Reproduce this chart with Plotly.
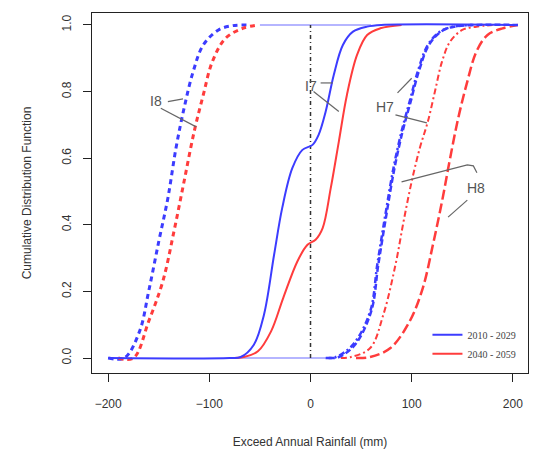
import plotly.graph_objects as go

# ---- CDF curves (x: exceed annual rainfall in mm, y: cumulative probability) ----
i8_blue_x = [-200, -184, -169, -160, -150, -141, -133, -125, -116, -106, -91, -77, -60]
i8_blue_y = [0.0, 0.0, 0.08, 0.20, 0.35, 0.48, 0.63, 0.75, 0.86, 0.94, 0.985, 0.998, 1.0]

i8_red_x = [-190, -175, -160, -146, -135, -125, -115, -106, -97, -84, -67, -52]
i8_red_y = [0.0, 0.0, 0.11, 0.23, 0.38, 0.53, 0.68, 0.79, 0.89, 0.96, 0.99, 1.0]

i7_blue_x = [-200, -80, -69, -56, -46, -36, -28, -18, -8, 2, 8, 15, 23, 32, 42, 56, 70, 205]
i7_blue_y = [0.0, 0.0, 0.003, 0.04, 0.13, 0.31, 0.45, 0.57, 0.625, 0.64, 0.67, 0.74, 0.85, 0.94, 0.98, 0.995, 1.0, 1.0]

i7_red_x = [-80, -66, -52, -39, -27, -13, -3, 5, 12, 20, 28, 36, 46, 56, 69, 90]
i7_red_y = [0.0, 0.003, 0.02, 0.08, 0.18, 0.29, 0.34, 0.355, 0.39, 0.51, 0.65, 0.79, 0.91, 0.97, 0.99, 1.0]

h7_blue_x = [15, 25, 42, 59, 66, 74, 82, 90, 98, 106, 116, 128, 141, 160]
h7_blue_y = [0.0, 0.003, 0.04, 0.14, 0.28, 0.43, 0.57, 0.68, 0.77, 0.86, 0.94, 0.98, 0.995, 1.0]

h8_blue_x = [18, 28, 44, 60, 67, 75, 83, 91, 99, 107, 117, 129, 142, 205]
h8_blue_y = [0.0, 0.003, 0.04, 0.14, 0.28, 0.43, 0.57, 0.68, 0.77, 0.86, 0.94, 0.98, 0.995, 1.0]

h7_red_x = [30, 40, 59, 72, 84, 92, 100, 108, 116, 123, 130, 138, 150, 164, 180]
h7_red_y = [0.0, 0.003, 0.03, 0.13, 0.28, 0.41, 0.53, 0.63, 0.71, 0.80, 0.89, 0.95, 0.985, 0.995, 1.0]

h8_red_x = [45, 59, 79, 98, 111, 121, 130, 138, 146, 155, 164, 175, 190, 205]
h8_red_y = [0.0, 0.003, 0.03, 0.11, 0.21, 0.34, 0.47, 0.60, 0.72, 0.83, 0.92, 0.97, 0.99, 1.0]

# flat baseline / ceiling segments of the period-1 curves
flat_x = [-80, 25, None, -50, 60]
flat_y = [0, 0, None, 1, 1]

# zero-change reference
ref_x = [0, 0]
ref_y = [0, 1]

# curve labels and their leader lines
label_text = ["I8", "I7", "H7", "H8"]
label_x = [-153, 0, 74, 164]
label_y = [0.772, 0.817, 0.754, 0.51]
leader_x = [-141, -126, None, -148, -113, None,
            10, 22, None, 3, 28, None,
            86, 100, None, 84, 115, None,
            90, 155, 161, 164.5, None, 155, 136]
leader_y = [0.77, 0.778, None, 0.75, 0.694, None,
            0.826, 0.826, None, 0.80, 0.74, None,
            0.796, 0.84, None, 0.73, 0.706, None,
            0.529, 0.58, 0.577, 0.556, None, 0.474, 0.423]

period_names = ["2010 - 2029", "2040 - 2059"]
x_ticks = [-200, -100, 0, 100, 200]
y_ticks = [0.0, 0.2, 0.4, 0.6, 0.8, 1.0]

BLUE = "#3c3cff"
RED = "#ff3c3c"

fig = go.Figure()


def add_curve(x, y, color, width, dash, name=None, show=False):
    fig.add_trace(go.Scatter(
        x=x, y=y, mode="lines",
        line=dict(color=color, width=width, dash=dash, shape="spline", smoothing=1.0),
        name=name, showlegend=show, hoverinfo="skip"))


fig.add_trace(go.Scatter(x=flat_x, y=flat_y, mode="lines",
                         line=dict(color="rgba(90,90,255,0.45)", width=2),
                         showlegend=False, hoverinfo="skip"))
fig.add_trace(go.Scatter(x=ref_x, y=ref_y, mode="lines",
                         line=dict(color="#333333", width=1.5, dash="4px,3px,1px,3px"),
                         showlegend=False, hoverinfo="skip"))

add_curve(i8_blue_x, i8_blue_y, BLUE, 3, "5px,4px")
add_curve(i8_red_x, i8_red_y, RED, 3, "5px,4px")
add_curve(h8_red_x, h8_red_y, RED, 2.5, "10px,4px")
add_curve(h7_red_x, h7_red_y, RED, 2, "6px,3px,2px,3px")
add_curve(h8_blue_x, h8_blue_y, BLUE, 2.5, "6px,3px")
add_curve(h7_blue_x, h7_blue_y, BLUE, 2.5, "6px,3px,2px,3px")
add_curve(i7_red_x, i7_red_y, RED, 2, "solid")
add_curve(i7_blue_x, i7_blue_y, BLUE, 2, "solid")

# legend entries for the two periods
fig.add_trace(go.Scatter(x=[None], y=[None], mode="lines", line=dict(color=BLUE, width=2),
                         name=period_names[0], showlegend=True))
fig.add_trace(go.Scatter(x=[None], y=[None], mode="lines", line=dict(color=RED, width=2),
                         name=period_names[1], showlegend=True))

fig.add_trace(go.Scatter(x=leader_x, y=leader_y, mode="lines",
                         line=dict(color="#666666", width=1.2),
                         showlegend=False, hoverinfo="skip"))

for t, lx, ly in zip(label_text, label_x, label_y):
    fig.add_annotation(x=lx, y=ly, text=t, showarrow=False,
                       font=dict(family="Liberation Sans, Arial", size=14, color="#555555"))

axis_common = dict(
    showgrid=False, zeroline=False, showline=True, linecolor="#222222", linewidth=1,
    mirror=True, ticks="outside", ticklen=8, tickwidth=1, tickcolor="#222222",
    automargin=False,
    tickfont=dict(family="Liberation Sans, Arial", size=12, color="#333333"),
)

fig.update_layout(
    width=536, height=449,
    margin=dict(l=92, r=8, t=13, b=76),
    paper_bgcolor="white", plot_bgcolor="white",
    xaxis=dict(range=[-216, 215], tickvals=x_ticks, ticktext=["\u2212200", "\u2212100", "0", "100", "200"],
               ticklabelstandoff=12,
               title=dict(text="Exceed Annual Rainfall (mm)", standoff=27,
                          font=dict(family="Liberation Sans, Arial", size=12, color="#333333")),
               **axis_common),
    yaxis=dict(range=[-0.045, 1.036], tickvals=y_ticks, ticktext=["0.0", "0.2", "0.4", "0.6", "0.8", "1.0"],
               tickangle=-90, ticklabelstandoff=7,
               title=dict(text="Cumulative Distribution Function", standoff=26,
                          font=dict(family="Liberation Sans, Arial", size=12, color="#333333")),
               **axis_common),
    legend=dict(x=0.985, y=0.013, xanchor="right", yanchor="bottom",
                bgcolor="rgba(0,0,0,0)", borderwidth=0, tracegroupgap=0,
                font=dict(family="Liberation Serif, Times New Roman", size=10, color="#444444")),
    showlegend=True,
)

fig.write_html("out.html")
